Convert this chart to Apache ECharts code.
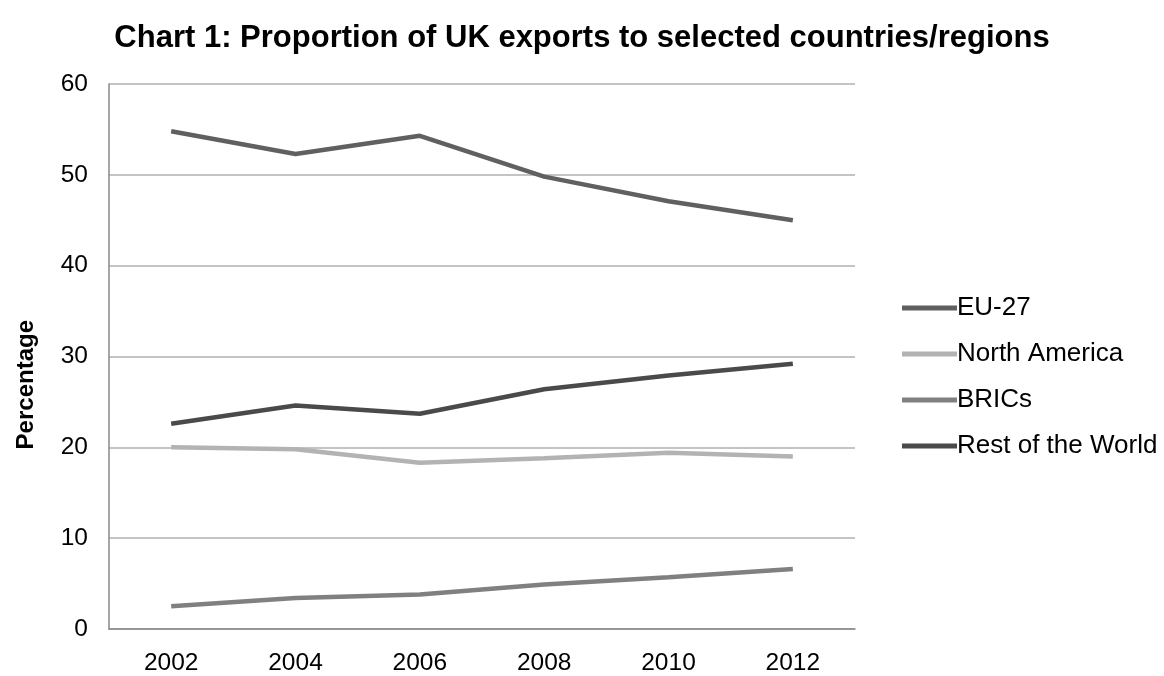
<!DOCTYPE html>
<html>
<head>
<meta charset="utf-8">
<script src="https://cdn.jsdelivr.net/npm/echarts@6/dist/echarts.min.js"></script>
<style>html,body{margin:0;padding:0;background:#fff}#c{width:1164px;height:676px}</style>
</head>
<body>
<div id="c"></div>
<script>
const years = ['2002','2004','2006','2008','2010','2012'];
const eu27 = [54.8, 52.3, 54.3, 49.8, 47.1, 45.0];
const northAmerica = [20.0, 19.8, 18.3, 18.8, 19.4, 19.0];
const brics = [2.5, 3.4, 3.8, 4.9, 5.7, 6.6];
const restOfWorld = [22.6, 24.6, 23.7, 26.4, 27.9, 29.2];
const yTicks = [0, 10, 20, 30, 40, 50, 60];

const chart = echarts.init(document.getElementById('c'));
const font = 'Liberation Sans, Arial, sans-serif';
function mk(name, data, color) {
  return {name, type:'line', data, symbol:'none', smooth:false,
    lineStyle:{color, width:4.5}, itemStyle:{color}};
}
chart.setOption({
  animation:false,
  title:{text:'Chart 1: Proportion of UK exports to selected countries/regions', left:'center', top:18,
    textStyle:{fontFamily:'Liberation Sans Narrow, Arial Narrow, sans-serif', fontWeight:'bold', fontSize:31, color:'#000'}},
  grid:{left:109, right:309, top:84, bottom:47},
  legend:{orient:'vertical', left:897, top:290, itemWidth:55, itemHeight:5, itemGap:20, icon:'rect',
    textStyle:{fontFamily:font, fontSize:26, color:'#000', padding:[0,0,0,-5]},
    data:['EU-27','North America','BRICs','Rest of the World']},
  xAxis:{type:'category', data:years, boundaryGap:true,
    axisLine:{lineStyle:{color:'#888', width:1.5}}, axisTick:{show:false},
    axisLabel:{fontFamily:font, fontSize:24.5, color:'#000', margin:22}},
  yAxis:{type:'value', min:yTicks[0], max:yTicks[yTicks.length-1], interval:10,
    axisLine:{show:true, lineStyle:{color:'#888', width:1.5}}, axisTick:{show:false},
    splitLine:{lineStyle:{color:'#b0b0b0', width:1.5}},
    axisLabel:{fontFamily:font, fontSize:24.5, color:'#000', margin:21}},
  graphic:[{type:'text', left:14, top:320, rotation:Math.PI/2,
    style:{text:'Percentage', fontFamily:font, fontWeight:'bold', fontSize:24, fill:'#000'}}],
  series:[
    mk('EU-27', eu27, '#606060'),
    mk('North America', northAmerica, '#b3b3b3'),
    mk('BRICs', brics, '#808080'),
    mk('Rest of the World', restOfWorld, '#4a4a4a')
  ]
});
</script>
</body>
</html>
